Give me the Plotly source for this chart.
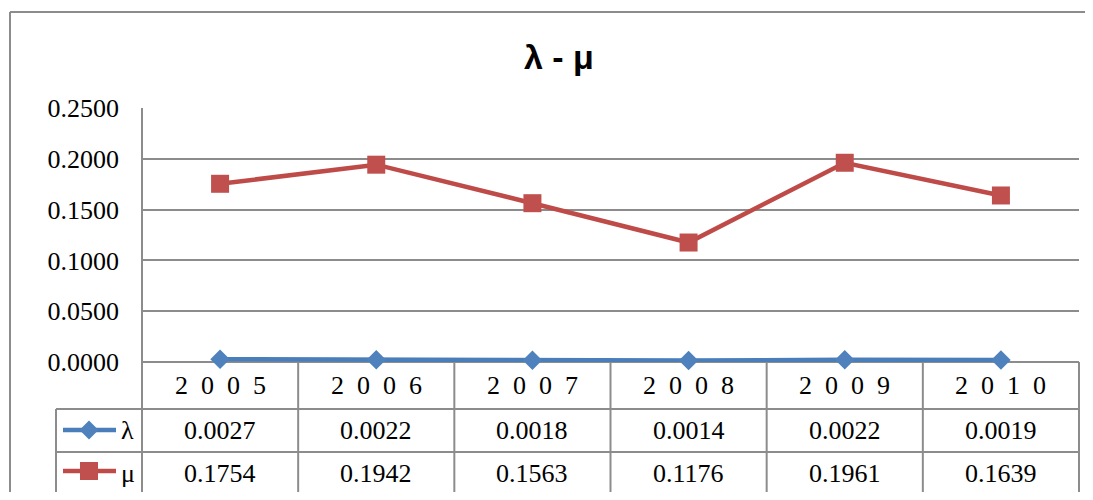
import plotly.graph_objects as go

# ---- data ----
years = ["2005", "2006", "2007", "2008", "2009", "2010"]
lam = [0.0027, 0.0022, 0.0018, 0.0014, 0.0022, 0.0019]
mu = [0.1754, 0.1942, 0.1563, 0.1176, 0.1961, 0.1639]
series_names = ["λ", "μ"]
y_ticks = [0.0, 0.05, 0.10, 0.15, 0.20, 0.25]
title_text = "λ - μ"

# ---- layout geometry (window pixels) ----
OFF = 8                      # page body margin
W, H = 1093 - OFF, 500 - 2 * OFF
PL, PR, PT, PB = 142, 1079, 108, 362  # plot area
ROWS = [362, 409, 452, 494]            # table horizontal lines
LEG_X = 56

BLUE, RED = "#4F81BD", "#C0504D"
BLUE_L, RED_L = "#4A7EBB", "#BE4B48"
GRID = "#8c8c8c"
SERIF = "Times New Roman, Liberation Serif, serif"

def px(x):
    return (x - OFF) / W

def py(y):
    return (H - (y - OFF)) / H

xd0, xd1 = px(PL), px(PR)
n = len(years)

fig = go.Figure()
idx = list(range(n))
fig.add_trace(go.Scatter(x=idx, y=lam, mode="lines+markers", name=series_names[0],
                         line=dict(color=BLUE_L, width=4.5), cliponaxis=False,
                         marker=dict(symbol="diamond", size=15, color=BLUE, line=dict(width=0))))
fig.add_trace(go.Scatter(x=idx, y=mu, mode="lines+markers", name=series_names[1],
                         line=dict(color=RED_L, width=4.5), cliponaxis=False,
                         marker=dict(symbol="square", size=18, color=RED, line=dict(width=0))))

shapes = []
# outer chart border (top and left edges; the rest lies outside the picture)
shapes.append(dict(type="line", xref="paper", yref="paper", x0=px(10), x1=1.0, y0=py(12), y1=py(12),
                   line=dict(color=GRID, width=2), layer="below"))
shapes.append(dict(type="line", xref="paper", yref="paper", x0=px(10), x1=px(10), y0=0.0, y1=py(12),
                   line=dict(color=GRID, width=2), layer="below"))
# table horizontal lines
for i, yy in enumerate(ROWS):
    x0 = PL if i == 0 else LEG_X
    shapes.append(dict(type="line", xref="paper", yref="paper", x0=px(x0), x1=xd1, y0=py(yy), y1=py(yy),
                       line=dict(color=GRID, width=2), layer="below"))
# table vertical lines
for k in range(n + 1):
    xx = xd0 + (xd1 - xd0) * k / n
    shapes.append(dict(type="line", xref="paper", yref="paper", x0=xx, x1=xx,
                       y0=py(ROWS[0] if k > 0 else PT), y1=py(ROWS[-1]),
                       line=dict(color=GRID, width=2), layer="below"))
shapes.append(dict(type="line", xref="paper", yref="paper", x0=px(LEG_X), x1=px(LEG_X),
                   y0=py(ROWS[1]), y1=py(ROWS[-1]), line=dict(color=GRID, width=2)))

# legend keys in the table
def diamond(cx, cy, r):
    return (f"M{px(cx - r)},{py(cy)} L{px(cx)},{py(cy - r)} L{px(cx + r)},{py(cy)} "
            f"L{px(cx)},{py(cy + r)} Z")

def square(cx, cy, r):
    return (f"M{px(cx - r)},{py(cy - r)} L{px(cx + r)},{py(cy - r)} L{px(cx + r)},{py(cy + r)} "
            f"L{px(cx - r)},{py(cy + r)} Z")

row_c = [(ROWS[0] + ROWS[1]) / 2, (ROWS[1] + ROWS[2]) / 2, (ROWS[2] + ROWS[3]) / 2]
for lcol, col, path_fn, r, yc in [(BLUE_L, BLUE, diamond, 9.5, 430), (RED_L, RED, square, 9, 471)]:
    shapes.append(dict(type="line", xref="paper", yref="paper", x0=px(63), x1=px(116), y0=py(yc), y1=py(yc),
                       line=dict(color=lcol, width=4.5)))
    shapes.append(dict(type="path", xref="paper", yref="paper", path=path_fn(89, yc, r),
                       fillcolor=col, line=dict(width=0)))

annotations = []
tfont = dict(family=SERIF, size=26, color="black")
for i, yr in enumerate(years):
    annotations.append(dict(x=i, y=py(row_c[0]), xref="x", yref="paper", text="\u00a0\u00a0".join(yr),
                            showarrow=False, font=tfont, xanchor="center", yanchor="middle"))
    annotations.append(dict(x=i, y=py(row_c[1]), xref="x", yref="paper", text=f"{lam[i]:.4f}",
                            showarrow=False, font=tfont, xanchor="center", yanchor="middle"))
    annotations.append(dict(x=i, y=py(row_c[2]), xref="x", yref="paper", text=f"{mu[i]:.4f}",
                            showarrow=False, font=tfont, xanchor="center", yanchor="middle"))
for name, r in zip(series_names, row_c[1:]):
    annotations.append(dict(x=px(119), y=py(r), xref="paper", yref="paper", text=name,
                            showarrow=False, font=tfont, xanchor="left", yanchor="middle"))
annotations.append(dict(x=px(559), y=py(57), xref="paper", yref="paper", text="<b>" + title_text + "</b>",
                        showarrow=False, font=dict(family="Arial, Liberation Sans, sans-serif", size=34, color="black"),
                        xanchor="center", yanchor="middle"))

fig.update_layout(
    width=W, height=H,
    margin=dict(l=0, r=0, t=0, b=0, autoexpand=False),
    paper_bgcolor="white", plot_bgcolor="white",
    showlegend=False,
    xaxis=dict(domain=[xd0, xd1], range=[-0.5, n - 0.5], showgrid=False, zeroline=False,
               showticklabels=False, ticks="", showline=False, automargin=False),
    yaxis=dict(domain=[py(PB), py(PT)], range=[0, 0.25], tickvals=y_ticks,
               ticktext=[f"{v:.4f}" for v in y_ticks], tickfont=tfont,
               showgrid=True, gridcolor=GRID, gridwidth=2, zeroline=False,
               showline=False, ticks="", ticklabelstandoff=22, automargin=False),
    shapes=shapes,
    annotations=annotations,
)

fig.write_html("out.html")
